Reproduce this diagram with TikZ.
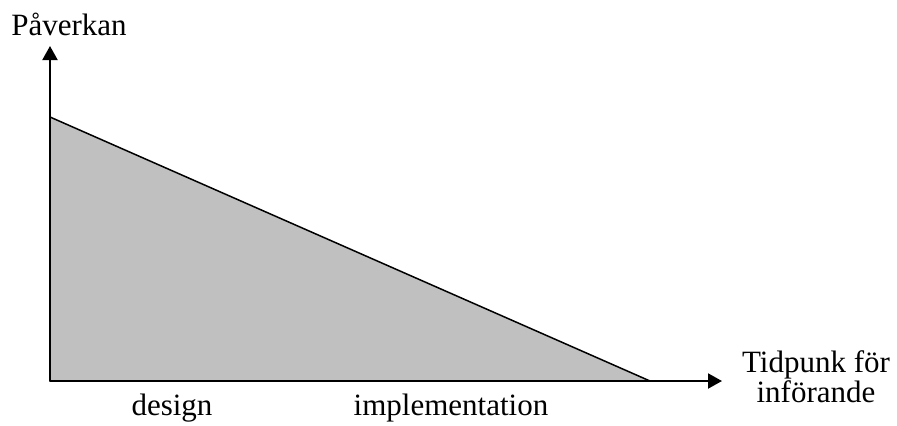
\documentclass[tikz,border=0pt]{standalone}
\usepackage{fontspec}
\setmainfont{Liberation Serif}
\usetikzlibrary{arrows.meta}
\definecolor{fillgray}{RGB}{192,192,192}
\tikzset{
  axis/.style={-{Triangle[length=7pt,width=7.5pt]}, line width=1pt, draw=black},
  lbl/.style={inner sep=0pt, font=\fontsize{15.5}{13.5}\selectfont}
}
\begin{document}
\begin{tikzpicture}[x=0.5pt, y=0.5pt]
\useasboundingbox (0,0) rectangle (897,425);
\coordinate (O) at (50,44);
\coordinate (Top) at (50,379);
\coordinate (Right) at (722,44);
\coordinate (A) at (50,308);
\coordinate (B) at (650,44);
\path [fill=fillgray, draw=black, line width=0.75pt] (O) -- (A) -- (B) -- cycle;
\draw [axis] (O) -- (Top);
\draw [axis] (O) -- (Right);
\node[lbl, anchor=base] (yl) at (69,390) {Påverkan};
\node[lbl, anchor=north, align=center] (xl) at (816,75) {Tidpunk för\\införande};
\node[lbl, anchor=base] (d) at (172,10) {design};
\node[lbl, anchor=base] (im) at (451,10) {implementation};
\end{tikzpicture}
\end{document}
